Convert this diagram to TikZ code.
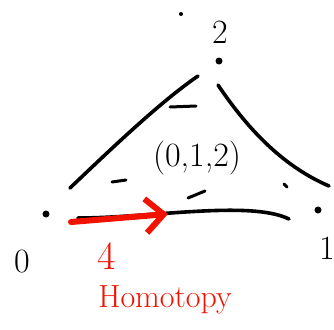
\documentclass[tikz,border=0pt]{standalone}
\usetikzlibrary{arrows.meta}
\begin{document}
\begin{tikzpicture}[x=1pt,y=-1pt,
  vdot/.style={circle,fill=black,inner sep=0pt,minimum size=7pt},
  lbl/.style={font=\fontsize{34}{36}\selectfont,inner sep=0pt},
  edge/.style={line width=3.6pt,line cap=round},
  tick/.style={line width=3pt,line cap=round},
  hom/.style={red!85!orange!95!black}]
  \useasboundingbox (0,0) rectangle (334,329);
  % vertices of the simplex
  \node[vdot] (v0) at (46,214) {};
  \node[vdot] (v1) at (318,210) {};
  \node[vdot] (v2) at (219,61) {};
  \node[circle,fill=black,inner sep=0pt,minimum size=4pt] (top) at (181,14) {};
  \node[lbl] (l0) at (22,262) {0};
  \node[lbl] (l1) at (327,248) {1};
  \node[lbl] (l2) at (220,32) {2};
  \node[lbl] (face) at (197,158) {(0,1,2)};
  % edges
  \coordinate (a0) at (70,188);
  \coordinate (a2) at (198,76);
  \coordinate (b2) at (218,85);
  \coordinate (b1) at (329,186);
  \coordinate (c0) at (78,218);
  \coordinate (c1) at (289,219);
  \draw[edge] (a0) .. controls (110,150) and (160,102) .. (a2);
  \draw[edge] (b2) .. controls (245,125) and (280,165) .. (b1);
  \draw[edge] (c0) .. controls (150,218) and (250,200) .. (c1);
  % ticks
  \draw[tick] (170,107) -- (196,106);
  \draw[tick] (112,182) -- (126,180);
  \draw[tick] (188,198) -- (205,191);
  \draw[tick] (284,184) -- (287,187);
  % homotopy
  \coordinate (h0) at (71,222);
  \coordinate (h1) at (168,214);
  \draw[hom,line width=6pt,line cap=round,-{Straight Barb[length=18pt,width=34pt,line width=6pt]}] (h0) -- (h1);
  \node[hom,lbl,font=\fontsize{40}{42}\selectfont] (phi) at (107,256) {4};
  \node[hom,lbl,font=\fontsize{32}{34}\selectfont] (htxt) at (165,300) {Homotopy};
\end{tikzpicture}
\end{document}
